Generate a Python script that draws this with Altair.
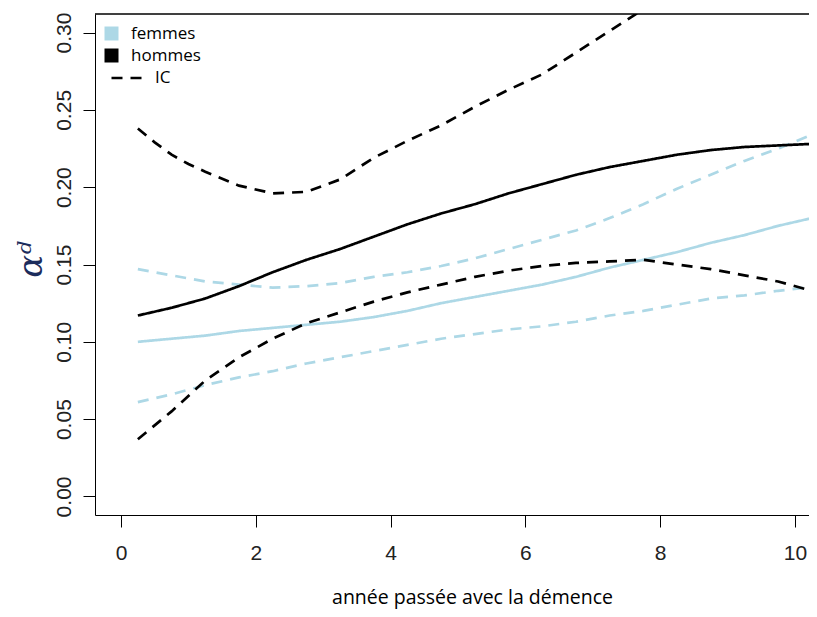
import altair as alt
import pandas as pd

# --- data ---
x_grid = [0.25, 0.75, 1.25, 1.75, 2.25, 2.75, 3.25, 3.75, 4.25, 4.75, 5.25,
          5.75, 6.25, 6.75, 7.25, 7.75, 8.25, 8.75, 9.25, 9.75, 10.25]

femmes_est = [0.100, 0.102, 0.104, 0.107, 0.109, 0.111, 0.113, 0.116, 0.120, 0.125, 0.129,
              0.133, 0.137, 0.142, 0.148, 0.153, 0.158, 0.164, 0.169, 0.175, 0.180]
femmes_hi = [0.147, 0.143, 0.139, 0.137, 0.135, 0.136, 0.138, 0.142, 0.145, 0.149, 0.154,
             0.160, 0.166, 0.172, 0.180, 0.189, 0.199, 0.208, 0.217, 0.225, 0.234]
femmes_lo = [0.061, 0.066, 0.072, 0.077, 0.081, 0.086, 0.090, 0.094, 0.098, 0.102, 0.105,
             0.108, 0.110, 0.113, 0.117, 0.120, 0.124, 0.128, 0.130, 0.133, 0.1355]

hommes_est = [0.117, 0.122, 0.128, 0.136, 0.145, 0.153, 0.160, 0.168, 0.176, 0.183, 0.189,
              0.196, 0.202, 0.208, 0.213, 0.217, 0.221, 0.224, 0.226, 0.227, 0.228]
hommes_lo = [0.037, 0.055, 0.075, 0.090, 0.102, 0.112, 0.119, 0.126, 0.132, 0.137, 0.142,
             0.146, 0.149, 0.151, 0.152, 0.153, 0.150, 0.147, 0.143, 0.139, 0.133]
hommes_hi_x = [0.25, 0.5, 0.75, 1.0, 1.25, 1.75, 2.25, 2.75, 3.25, 3.75, 4.25, 4.75, 5.25,
               5.75, 6.25, 6.75, 7.25, 7.75]
hommes_hi = [0.238, 0.229, 0.221, 0.215, 0.210, 0.201, 0.196, 0.197, 0.205, 0.219, 0.230,
             0.240, 0.252, 0.263, 0.273, 0.287, 0.301, 0.315]

x_ticks = [0, 2, 4, 6, 8, 10]
y_ticks = [0.00, 0.05, 0.10, 0.15, 0.20, 0.25, 0.30]
sexes = ["femmes", "hommes"]
colors = ["#ADD8E6", "#000000"]

rows = []
def add(xs, vs, sexe, style, serie):
    for a, b in zip(xs, vs):
        rows.append({"x": a, "v": b, "sexe": sexe, "style": style, "serie": serie})

add(x_grid, femmes_lo, "femmes", "IC", "f_lo")
add(x_grid, femmes_hi, "femmes", "IC", "f_hi")
add(x_grid, femmes_est, "femmes", "est", "f_est")
add(x_grid, hommes_lo, "hommes", "IC", "h_lo")
add(hommes_hi_x, hommes_hi, "hommes", "IC", "h_hi")
add(x_grid, hommes_est, "hommes", "est", "h_est")
df = pd.DataFrame(rows)
df["order"] = range(len(df))

leg_df = pd.DataFrame({"x": [-5, -5], "v": [0.15, 0.15], "sexe": sexes})

W, H = 714, 501
xscale = alt.Scale(domain=[-0.386, 10.208], nice=False, zero=False)
yscale = alt.Scale(domain=[-0.012, 0.312], nice=False, zero=False)

xaxis = alt.Axis(values=x_ticks, format="d", title="année passée avec la démence",
                 grid=False, tickSize=12, labelPadding=15, titlePadding=25,
                 titleX=377, titleAlign="center")
yaxis = alt.Axis(values=y_ticks, format=".2f", title="αᵈ", grid=False, tickSize=12,
                 labelAngle=270, labelAlign="center", labelBaseline="bottom",
                 labelPadding=9, titleX=-64, titleY=245, titleAlign="center",
                 titleBaseline="middle")

lines = alt.Chart(df).mark_line(strokeWidth=2.7, clip=True).encode(
    x=alt.X("x:Q", scale=xscale, axis=xaxis),
    y=alt.Y("v:Q", scale=yscale, axis=yaxis),
    color=alt.Color("sexe:N", scale=alt.Scale(domain=sexes, range=colors), legend=None),
    strokeDash=alt.StrokeDash(
        "style:N",
        scale=alt.Scale(domain=["est", "IC"], range=[[1, 0], [11, 8]]),
        legend=alt.Legend(values=["IC"], title=None, orient="none",
                          legendX=15, legendY=45,
                          symbolType="M-1,0L1,0", symbolSize=1225,
                          symbolStrokeColor="black", symbolStrokeWidth=2.7,
                          labelFont="Open Sans", labelFontSize=17, labelColor="black",
                          labelOffset=7, padding=0),
    ),
    detail="serie:N",
    order="order:Q",
)

legend_squares = alt.Chart(leg_df).mark_square(size=196, clip=True, opacity=1).encode(
    x=alt.X("x:Q", scale=xscale),
    y=alt.Y("v:Q", scale=yscale),
    fill=alt.Fill("sexe:N", scale=alt.Scale(domain=sexes, range=colors),
                  legend=alt.Legend(title=None, orient="none", legendX=8, legendY=11,
                                    symbolType="square",
                                    symbolSize=196, symbolStrokeWidth=0,
                                    labelFont="Open Sans", labelFontSize=17,
                                    labelColor="black", labelOffset=11, rowPadding=4,
                                    padding=0)),
)

top_line = alt.Chart(leg_df).mark_rule(color="black", strokeWidth=1).encode(
    x=alt.value(0), x2=alt.value(W), y=alt.value(0)
)

chart = alt.layer(legend_squares, lines, top_line).properties(
    width=W, height=H,
    autosize=alt.AutoSizeParams(type="none"),
    padding={"left": 87, "top": 6, "right": 0, "bottom": 94},
).configure_view(stroke=None).configure_axis(
    domainColor="black", tickColor="black", domainWidth=1, tickWidth=1,
    labelFont="Liberation Sans", labelFontSize=21, labelColor="#222222",
    titleFont="Open Sans", titleFontSize=19.5, titleFontWeight="normal", titleColor="black",
).configure_axisY(
    titleFont="DejaVu Serif", titleFontSize=34, titleFontStyle="italic",
    titleColor="#1c2c5c", titleAngle=270,
)

chart.save("out.html", embed_options={"renderer": "svg", "actions": False})
